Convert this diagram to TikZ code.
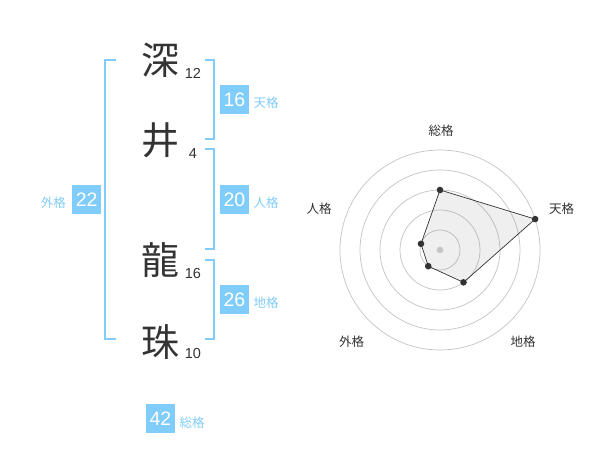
\documentclass[tikz,border=0pt]{standalone}
\usepackage{fontspec}
\usetikzlibrary{calc}
\setmainfont{Liberation Sans}
\newfontfamily\jp{Noto Sans CJK JP}
\definecolor{kakublue}{RGB}{128,204,250}
\definecolor{inkgray}{RGB}{51,51,51}
\definecolor{ringgray}{RGB}{198,198,198}
\definecolor{areagray}{RGB}{120,120,120}
\tikzset{
  bigkanji/.style={text=inkgray,inner sep=0pt,font=\jp\fontsize{38}{38}\selectfont},
  stroke/.style={text=inkgray,inner sep=0pt,font=\fontsize{14.5}{14.5}\selectfont},
  numbox/.style={fill=kakublue,text=white,minimum size=29pt,inner sep=0pt,font=\fontsize{19.5}{19.5}\selectfont},
  kakulabel/.style={text=kakublue,inner sep=0pt,font=\jp\fontsize{12.5}{12.5}\selectfont},
  bracket/.style={draw=kakublue,line width=2pt},
  ring/.style={draw=ringgray,line width=0.75pt},
  axislabel/.style={text=inkgray,inner sep=0pt,font=\jp\fontsize{12.5}{12.5}\selectfont}
}
\begin{document}
\begin{tikzpicture}[x=1pt,y=1pt]
\useasboundingbox (0,0) rectangle (600,470);
\node[bigkanji] (k1) at (160,410) {深};
\node[stroke] (s1) at (193,396.7) {12};
\node[bigkanji] (k2) at (160,330) {井};
\node[stroke] (s2) at (193,316.7) {4};
\node[bigkanji] (k3) at (160,210) {龍};
\node[stroke] (s3) at (193,196.7) {16};
\node[bigkanji] (k4) at (160,128.3) {珠};
\node[stroke] (s4) at (193,116.7) {10};
\coordinate (gaiTop) at (116,410);
\coordinate (gaiBot) at (116,130.7);
\draw[bracket] (gaiTop) -- ++(-11,0) |- (gaiBot);
\coordinate (tenTop) at (205,410);
\coordinate (tenBot) at (205,330.7);
\draw[bracket] (tenTop) -- ++(9.3,0) |- (tenBot);
\coordinate (jinTop) at (205,320.7);
\coordinate (jinBot) at (205,220.7);
\draw[bracket] (jinTop) -- ++(9.3,0) |- (jinBot);
\coordinate (chiTop) at (205,210);
\coordinate (chiBot) at (205,130.7);
\draw[bracket] (chiTop) -- ++(9.3,0) |- (chiBot);
\node[numbox] (tenbox) at (234.5,370) {16};
\node[kakulabel] (tenlab) at (266,367) {天格};
\node[numbox] (jinbox) at (234.5,270) {20};
\node[kakulabel] (jinlab) at (266,267) {人格};
\node[numbox] (chibox) at (234.5,170) {26};
\node[kakulabel] (chilab) at (266,167) {地格};
\node[numbox] (gaibox) at (86.7,270) {22};
\node[kakulabel] (gailab) at (53.3,267) {外格};
\node[numbox] (soubox) at (160.5,51) {42};
\node[kakulabel] (soulab) at (192,47) {総格};
\coordinate (c) at (440,220);
\draw[ring] (c) circle (20);
\draw[ring] (c) circle (40);
\draw[ring] (c) circle (60);
\draw[ring] (c) circle (80);
\draw[ring] (c) circle (100);
\coordinate (pSou) at ($(c)+(90:60)$);
\coordinate (pTen) at ($(c)+(18:100)$);
\coordinate (pChi) at ($(c)+(-54:40)$);
\coordinate (pGai) at ($(c)+(234:20)$);
\coordinate (pJin) at ($(c)+(162:20)$);
\draw[fill=areagray,fill opacity=0.12,draw=inkgray,line width=0.7pt] (pSou) -- (pTen) -- (pChi) -- (pGai) -- (pJin) -- cycle;
\fill[ringgray] (c) circle (3.3);
\fill[inkgray] (pSou) circle (3.3);
\fill[inkgray] (pTen) circle (3.3);
\fill[inkgray] (pChi) circle (3.3);
\fill[inkgray] (pGai) circle (3.3);
\fill[inkgray] (pJin) circle (3.3);
\node[axislabel] (aSou) at (441,339.3) {総格};
\node[axislabel] (aTen) at (561.7,261.7) {天格};
\node[axislabel] (aChi) at (523,128.3) {地格};
\node[axislabel] (aGai) at (351.7,128.3) {外格};
\node[axislabel] (aJin) at (319,261.7) {人格};
\end{tikzpicture}
\end{document}
